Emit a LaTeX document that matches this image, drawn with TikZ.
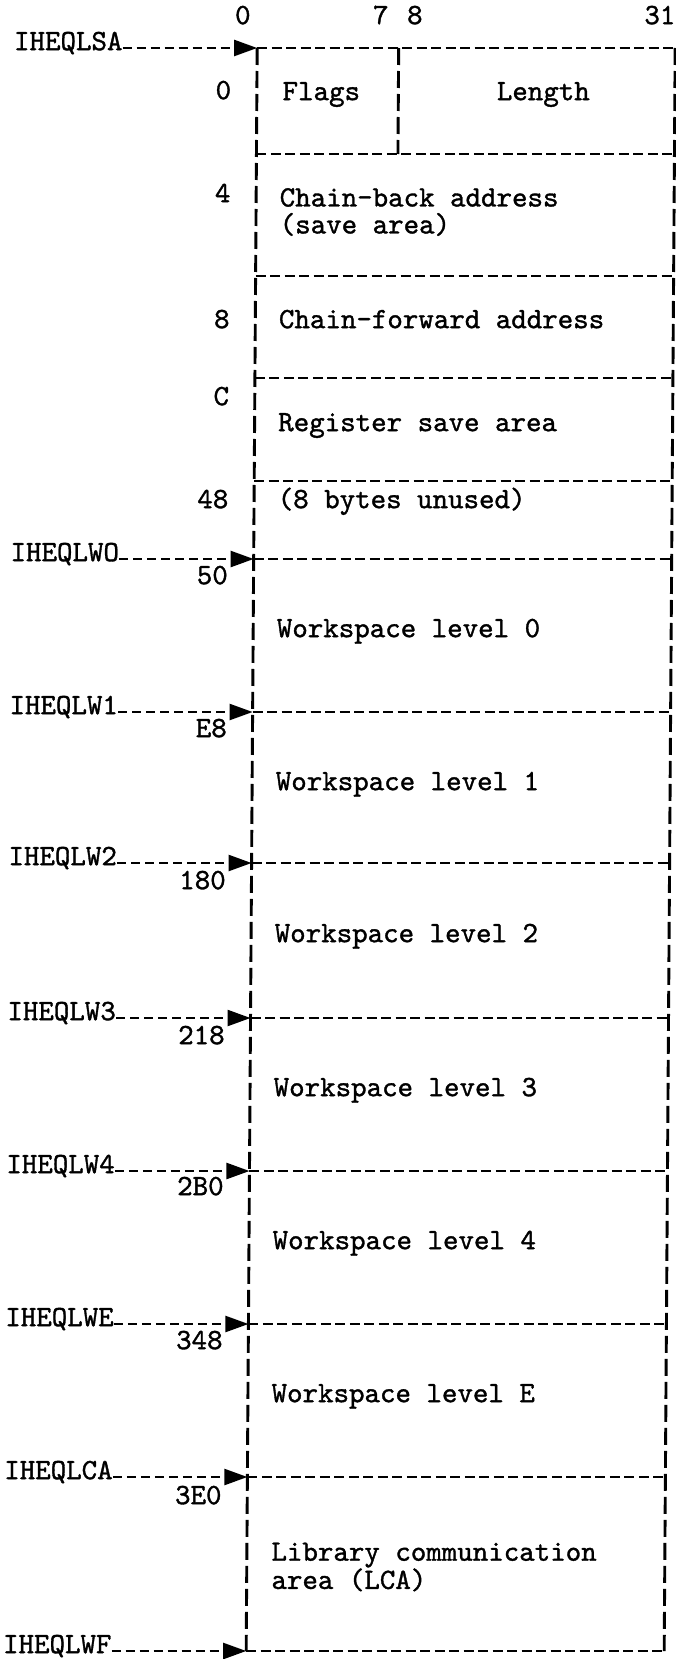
\documentclass[tikz,border=0pt]{standalone}
\usepackage{fontspec}
\newfontfamily\typer{lmmono10-regular.otf}[FakeBold=1.2]
\usetikzlibrary{arrows.meta,positioning}
\tikzset{gridline/.style={draw=black,dash pattern=on 10pt off 4.5pt,line width=2.7pt},edgeline/.style={draw=black,dash pattern=on 17pt off 6pt,line width=2.9pt},ptrline/.style={draw=black,dash pattern=on 9pt off 5pt,line width=2.3pt,-{Triangle[length=23pt,width=16pt]}},fieldtext/.style={font=\typer\fontsize{29.5}{27}\selectfont,inner sep=0pt,anchor=mid west,align=left},fieldpair/.style={font=\typer\fontsize{29.5}{27}\selectfont,inner sep=0pt,anchor=west,align=left},offsetlabel/.style={font=\typer\fontsize{29.5}{27}\selectfont,inner sep=0pt,anchor=mid east},ptrlabel/.style={font=\typer\fontsize{29.5}{27}\selectfont,inner sep=0pt,anchor=mid east},bitlabel/.style={font=\typer\fontsize{29.5}{27}\selectfont,inner sep=0pt,anchor=mid}}

\begin{document}
\begin{tikzpicture}[x=1pt,y=-1pt]
\useasboundingbox (0,0) rectangle (676,1659);
\begin{scope}[xslant=0.00685]
\foreach \n/\y in {0/48,1/154,2/276,3/378,4/481,5/559,6/712,7/863,8/1018,9/1171,10/1324,11/1477,12/1651}{\coordinate (w\n) at (257.5,\y); \coordinate (e\n) at (675.5,\y);}
\coordinate (fl0) at (399,48); \coordinate (fl1) at (399,154);
\foreach \n in {0,...,12}{\draw[gridline] (w\n)--(e\n);}
\draw[edgeline] (w0)--(w12);
\draw[edgeline] (e0)--(e12);
\draw[edgeline] (fl0)--(fl1);
\node[bitlabel] (bit0) at (243,22) {0};
\node[bitlabel] (bit7) at (381,22) {7};
\node[bitlabel] (bit8) at (415,22) {8};
\node[bitlabel] (bit31) at (660,22) {31};
\foreach \u/\y/\t in {off0/97/0,off4/200/4,off8/326/8,offC/403/C,off48/506/48,off50/582/50,offE8/735/E8,off180/887/180,off218/1042/218,off2B0/1193/2B0,off348/1347/348,off3E0/1502/3E0}{\node[offsetlabel] (\u) at (232,\y) {\t};}
\node[fieldtext,anchor=mid] (flags) at (322,98) {Flags};
\node[fieldtext,anchor=mid] (length) at (544,98) {Length};
\node[fieldpair] (chainback) at (281,212) {Chain-back address\\(save area)};
\node[fieldtext] (chainfwd) at (281,326) {Chain-forward address};
\node[fieldtext] (regsave) at (281,429) {Register save area};
\node[fieldtext] (unused) at (281,506) {(8 bytes unused)};
\foreach \u/\y/\t in {ws0/635/0,ws1/788/1,ws2/940/2,ws3/1094/3,ws4/1247/4,wsE/1400/E}{\node[fieldtext] (\u) at (281,\y) {Workspace level \t};}
\node[fieldpair] (lca) at (282,1567) {Library communication\\area (LCA)};
\foreach \u/\v/\y/\t in {psa/0/48/IHEQLSA,pw0/5/559/IHEQLWO,pw1/6/712/IHEQLW1,pw2/7/863/IHEQLW2,pw3/8/1018/IHEQLW3,pw4/9/1171/IHEQLW4,pwE/10/1324/IHEQLWE,pca/11/1477/IHEQLCA,pwF/12/1651/IHEQLWF}{\node[ptrlabel] (\u) at (123,\y) {\t}; \draw[ptrline] (\u.mid east)--(w\v);}
\end{scope}
\end{tikzpicture}
\end{document}
